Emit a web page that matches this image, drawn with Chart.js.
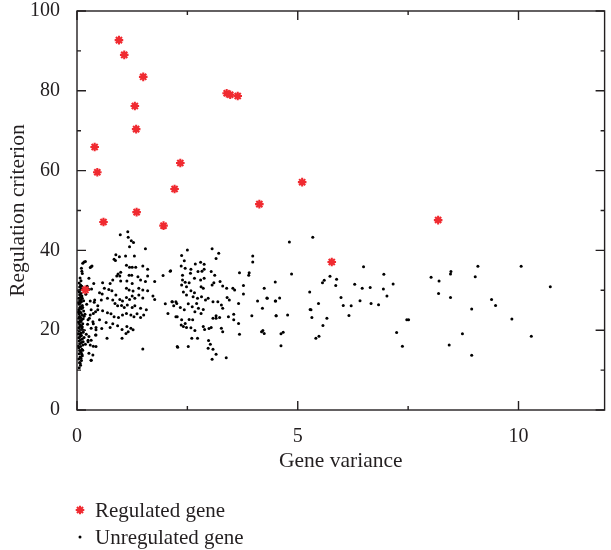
<!DOCTYPE html>
<html>
<head>
<meta charset="utf-8">
<script src="https://cdn.jsdelivr.net/npm/chart.js@4"></script>
<style>
  html, body { margin: 0; padding: 0; background: #fff; overflow: hidden; }
  #wrap { width: 611px; height: 550px; }
</style>
</head>
<body>
<div id="wrap"><canvas id="scatter" width="611" height="550"></canvas></div>
<script>
// gene variance vs regulation criterion
var seriesNames = ["Regulated gene", "Unregulated gene"];
var xTicks = [0, 2.5, 5, 7.5, 10];
var yTicks = [0, 10, 20, 30, 40, 50, 60, 70, 80, 90, 100];

var regulated = [
    [0.95, 92.7], [1.07, 89.0], [1.50, 83.5], [1.31, 76.2], [1.34, 70.4],
    [0.40, 65.9], [0.46, 59.6], [2.34, 61.9], [2.21, 55.4], [0.60, 47.1],
    [1.35, 49.6], [1.96, 46.2], [3.39, 79.4], [3.47, 79.0], [3.64, 78.7],
    [4.13, 51.6], [5.10, 57.1], [5.77, 37.1], [8.18, 47.6], [0.19, 30.1]
];

// dense strip next to the y axis
var unregulatedLow = [
    [0.05, 10.6], [0.08, 11.2], [0.06, 11.9], [0.10, 12.4], [0.04, 12.8], [0.07, 13.3], [0.12, 13.6],
    [0.05, 14.1], [0.09, 14.5], [0.06, 14.9], [0.11, 15.2], [0.04, 15.6], [0.08, 15.9], [0.13, 16.3],
    [0.06, 16.6], [0.10, 16.9], [0.05, 17.3], [0.08, 17.6], [0.12, 17.8], [0.04, 18.1], [0.07, 18.4],
    [0.10, 18.7], [0.06, 19.0], [0.09, 19.3], [0.14, 19.5], [0.05, 19.8], [0.08, 20.1], [0.11, 20.3],
    [0.04, 20.6], [0.07, 20.9], [0.10, 21.1], [0.06, 21.4], [0.13, 21.6], [0.05, 21.9], [0.09, 22.2],
    [0.07, 22.4], [0.11, 22.7], [0.04, 23.0], [0.08, 23.2], [0.06, 23.5], [0.12, 23.8], [0.05, 24.1],
    [0.09, 24.3], [0.07, 24.6], [0.15, 24.8], [0.04, 25.1], [0.10, 25.4], [0.06, 25.6], [0.08, 25.9],
    [0.12, 26.2], [0.05, 26.5], [0.07, 26.8], [0.10, 27.1], [0.06, 27.4], [0.09, 27.7], [0.04, 28.0],
    [0.08, 28.3], [0.11, 28.6], [0.06, 28.9], [0.09, 29.2], [0.05, 29.6], [0.07, 30.0], [0.10, 30.4],
    [0.06, 30.8], [0.08, 31.3], [0.05, 31.8], [0.09, 32.4], [0.07, 33.1], [0.12, 34.2], [0.10, 35.5],
    [0.03, 16.0], [0.14, 17.1], [0.03, 19.1], [0.12, 20.8], [0.03, 22.0], [0.14, 22.9], [0.03, 24.5],
    [0.13, 25.7], [0.03, 26.9], [0.12, 28.0], [0.04, 29.9], [0.11, 31.0], [0.09, 13.0], [0.11, 14.0],
    [0.13, 15.0], [0.07, 11.7], [0.15, 20.0], [0.15, 27.4], [0.16, 23.5], [0.16, 18.2],
    [0.19, 37.2], [0.13, 36.8], [0.11, 34.8], [0.32, 35.9], [0.27, 33.0], [0.32, 12.5], [0.27, 14.2],
    [0.43, 15.9], [0.20, 29.0], [0.22, 26.5], [0.18, 24.0], [0.24, 21.5], [0.21, 19.0], [0.19, 16.5],
    [0.25, 17.5], [0.28, 23.0], [0.23, 31.0], [0.27, 30.2], [0.40, 27.6], [0.47, 25.1], [0.30, 23.8],
    [0.37, 21.6], [0.43, 20.1], [0.27, 18.4], [0.32, 17.5], [0.42, 18.8], [0.51, 22.6]
];

var unregulatedMid = [
    [0.98, 43.9], [1.15, 44.7], [1.16, 43.3], [1.23, 42.4], [1.28, 42.0], [1.19, 40.9], [1.55, 40.4],
    [0.16, 37.1], [0.34, 36.1], [0.30, 35.7], [0.88, 38.9], [0.96, 38.4], [0.84, 37.8], [0.87, 37.5],
    [1.10, 38.6], [1.30, 38.6], [1.12, 36.3], [1.19, 35.8], [1.25, 35.8], [1.33, 35.8], [1.49, 36.1],
    [1.60, 35.3], [2.11, 34.8], [1.95, 33.7], [0.99, 34.5], [0.93, 34.1], [0.90, 33.6], [0.97, 33.6],
    [0.81, 32.6], [0.99, 32.3], [1.18, 33.8], [1.24, 33.8], [1.38, 33.4], [1.44, 32.6], [1.60, 33.6],
    [1.55, 32.2], [1.76, 32.2], [0.38, 31.7], [0.58, 31.9], [0.75, 31.7], [1.13, 32.3], [1.25, 31.7],
    [0.33, 30.3], [0.62, 30.5], [0.72, 30.2], [0.79, 29.9], [1.12, 30.5], [1.18, 30.1], [1.27, 29.8],
    [1.40, 30.5], [1.49, 30.1], [1.60, 29.9], [0.51, 29.4], [0.57, 29.1], [0.69, 28.0], [0.88, 28.8],
    [0.97, 27.7], [1.03, 27.3], [1.12, 28.2], [1.19, 27.7], [1.25, 28.6], [1.31, 28.0], [1.40, 28.8],
    [1.49, 28.1], [1.72, 28.6], [1.76, 27.7], [0.30, 27.3], [0.39, 27.0], [0.55, 27.6], [0.47, 26.1],
    [0.81, 27.6], [0.86, 26.7], [0.92, 26.1], [1.01, 26.2], [1.07, 25.7], [1.14, 26.3], [1.25, 25.7],
    [1.31, 26.1], [1.44, 25.5], [1.57, 25.1], [2.00, 26.6], [2.06, 24.2], [2.15, 27.1], [2.24, 27.1],
    [2.27, 23.4], [0.32, 25.1], [0.37, 24.2], [0.42, 24.6], [0.58, 24.9], [0.69, 24.4], [0.77, 24.1],
    [0.84, 23.4], [0.94, 23.2], [1.03, 23.8], [1.12, 24.2], [1.22, 23.8], [1.29, 23.4], [1.36, 24.1],
    [1.44, 23.2], [1.51, 23.8], [0.25, 22.6], [0.36, 22.1], [0.43, 20.7], [0.32, 20.5], [0.56, 20.4],
    [0.66, 21.9], [0.75, 20.7], [0.81, 21.6], [0.92, 21.1], [1.02, 20.2], [1.13, 20.9], [1.22, 20.5],
    [1.27, 20.1], [0.68, 18.0], [1.02, 18.0], [1.11, 19.2], [1.16, 19.6], [0.25, 17.1], [0.30, 16.3],
    [0.37, 16.0], [0.43, 18.8], [0.36, 13.8], [0.32, 12.5], [1.49, 15.3], [2.27, 15.9],
    [2.50, 40.1], [3.06, 40.4], [3.21, 39.3], [3.15, 38.0], [2.37, 38.7], [2.43, 37.4], [2.36, 36.1],
    [2.45, 35.5], [2.68, 36.6], [2.80, 37.0], [2.88, 36.5], [2.88, 35.3], [2.83, 34.8], [2.74, 34.7],
    [2.58, 35.3], [2.57, 34.3], [2.12, 34.9], [2.39, 33.8], [2.66, 33.0], [2.80, 32.6], [2.88, 33.0],
    [3.04, 34.7], [3.12, 33.8], [2.39, 32.6], [2.45, 32.0], [2.37, 31.3], [2.54, 31.9], [2.48, 30.9],
    [2.81, 30.9], [2.86, 30.5], [3.06, 31.3], [3.10, 31.9], [3.24, 32.2], [3.30, 31.1], [3.39, 30.5],
    [3.53, 30.5], [3.57, 30.1], [3.68, 34.4], [3.89, 33.8], [3.90, 34.4], [3.98, 38.6], [3.98, 37.1],
    [3.77, 31.2], [4.24, 30.5], [4.49, 32.1], [2.41, 29.6], [2.48, 28.8], [2.58, 29.9], [2.66, 29.4],
    [2.63, 28.4], [2.73, 28.0], [2.82, 28.4], [2.91, 27.6], [2.97, 28.0], [3.08, 27.1], [3.19, 27.1],
    [3.27, 26.3], [3.30, 25.5], [3.40, 28.2], [3.45, 27.6], [2.16, 27.1], [2.26, 26.7], [2.19, 26.1],
    [2.34, 25.7], [2.43, 25.1], [2.52, 26.6], [2.61, 25.9], [2.71, 26.7], [2.75, 25.5], [2.67, 24.6],
    [2.81, 24.2], [2.86, 25.2], [3.66, 26.7], [3.77, 29.1], [4.09, 27.3], [4.20, 25.5], [4.30, 28.1],
    [4.49, 27.3], [3.96, 23.6], [4.51, 23.6], [3.15, 23.6], [3.23, 23.2], [3.08, 23.0], [3.15, 23.0],
    [3.43, 23.4], [3.55, 24.0], [3.55, 22.6], [3.66, 21.7], [3.68, 19.0], [3.27, 20.5], [3.30, 19.6],
    [2.37, 22.6], [2.45, 21.7], [2.36, 21.3], [2.54, 22.7], [2.62, 22.6], [2.24, 23.4], [2.41, 20.9],
    [2.48, 20.7], [2.58, 20.6], [2.67, 19.9], [2.86, 20.9], [2.89, 20.2], [2.99, 20.4], [3.04, 20.7],
    [2.60, 18.0], [2.73, 18.0], [2.52, 15.9], [2.28, 15.7], [2.98, 17.4], [3.02, 16.5], [2.97, 15.5],
    [3.08, 15.2], [3.15, 14.0], [3.06, 12.7], [3.38, 13.1], [4.21, 19.9], [4.24, 19.2], [4.18, 19.6]
];

var unregulatedHigh = [
    [4.81, 42.1], [5.34, 43.3], [4.86, 34.1], [5.56, 31.9], [5.60, 32.5], [5.73, 33.5], [5.88, 32.8],
    [5.86, 31.2], [5.27, 29.6], [4.31, 28.0], [4.50, 27.3], [4.59, 28.1], [5.47, 26.7], [5.28, 25.2],
    [5.30, 25.1], [5.32, 23.2], [4.51, 23.6], [4.77, 23.8], [5.66, 23.0], [5.57, 21.2], [4.67, 19.5],
    [4.62, 19.1], [4.62, 16.1], [5.48, 18.5], [5.41, 18.0], [5.98, 28.2], [6.03, 26.2], [6.21, 26.1],
    [6.16, 23.7], [6.29, 31.5], [6.46, 30.5], [6.64, 30.7], [6.49, 35.9], [6.41, 27.4], [6.66, 26.7],
    [6.83, 26.4], [6.95, 34.0], [6.94, 30.3], [7.02, 28.6], [7.16, 31.6], [7.47, 22.6], [7.51, 22.6],
    [7.24, 19.4], [7.37, 16.0], [8.02, 33.3], [8.20, 32.3], [8.19, 29.2], [8.46, 28.2], [8.47, 34.7],
    [8.46, 34.1], [9.08, 36.0], [9.02, 33.4], [8.73, 19.1], [8.43, 16.3], [8.94, 25.3], [8.94, 13.7],
    [9.39, 27.7], [9.48, 26.2], [9.85, 22.8], [10.06, 36.0], [10.29, 18.5], [10.72, 30.9]
];

var unregulated = unregulatedLow.concat(unregulatedMid, unregulatedHigh);

function toPoints(list) {
    return list.map(p => ({ x: p[0], y: p[1] }));
}

var ink = '#231f20';
var red = '#f02a30';
var serif = '"Liberation Serif", "DejaVu Serif", serif';

// box with inward ticks on all four sides
var framePlugin = {
    id: 'frame',
    afterDatasetsDraw(chart) {
        let ctx = chart.ctx;
        let a = chart.chartArea;
        let xs = chart.scales.x;
        let ys = chart.scales.y;
        ctx.save();
        ctx.strokeStyle = ink;
        ctx.lineWidth = 1.4;
        ctx.strokeRect(a.left, a.top, a.right - a.left, a.bottom - a.top);
        ctx.beginPath();
        xs.ticks.forEach(t => {
            let p = xs.getPixelForValue(t.value);
            let len = t.value % 5 === 0 ? 9 : 4;
            ctx.moveTo(p, a.bottom); ctx.lineTo(p, a.bottom - len);
            ctx.moveTo(p, a.top); ctx.lineTo(p, a.top + len);
        });
        ys.ticks.forEach(t => {
            let p = ys.getPixelForValue(t.value);
            let len = t.value % 20 === 0 ? 9 : 4;
            ctx.moveTo(a.left, p); ctx.lineTo(a.left + len, p);
            ctx.moveTo(a.right, p); ctx.lineTo(a.right - len, p);
        });
        ctx.stroke();
        ctx.restore();
    }
};

// legend stacked under the x axis
var legendPlugin = {
    id: 'stackLegend',
    afterDraw(chart) {
        let ctx = chart.ctx;
        let rows = [510, 537];
        ctx.save();
        chart.data.datasets.forEach((ds, i) => {
            ctx.strokeStyle = ds.borderColor;
            ctx.fillStyle = ds.backgroundColor;
            ctx.lineWidth = ds.borderWidth;
            Chart.helpers.drawPoint(ctx, {
                pointStyle: ds.pointStyle,
                radius: ds.pointRadius,
                borderWidth: ds.borderWidth,
                rotation: 0
            }, 80, rows[i]);
            ctx.fillStyle = ink;
            ctx.font = '21px ' + serif;
            ctx.textBaseline = 'middle';
            ctx.fillText(ds.label, 95, rows[i] + 1);
        });
        ctx.restore();
    }
};

var ctx = document.getElementById("scatter");
var chart = new Chart(ctx, {
    type: 'scatter',
    data: {
        datasets: [{
            label: seriesNames[0],
            data: toPoints(regulated),
            pointStyle: 'star',
            pointRadius: 4.3,
            borderWidth: 2.1,
            borderColor: red,
            backgroundColor: red
        }, {
            label: seriesNames[1],
            data: toPoints(unregulated),
            pointStyle: 'circle',
            pointRadius: 1.5,
            borderWidth: 0,
            borderColor: '#000',
            backgroundColor: '#000'
        }]
    },
    options: {
        responsive: false,
        animation: false,
        layout: { padding: { top: 11, right: 0, left: 0, bottom: 0 } },
        plugins: {
            legend: { display: false },
            tooltip: { enabled: false }
        },
        scales: {
            x: {
                type: 'linear',
                min: 0,
                max: 11.95,
                afterBuildTicks: s => { s.ticks = xTicks.map(v => ({ value: v })); },
                afterFit: s => { s.height = 140; s.paddingLeft = 0; s.paddingRight = 0; },
                grid: { display: false },
                border: { display: false },
                ticks: {
                    padding: 7,
                    color: ink,
                    font: { family: serif, size: 20 },
                    callback: v => (v % 5 === 0 ? String(v) : '')
                },
                title: {
                    display: true,
                    text: 'Gene variance',
                    color: ink,
                    font: { family: serif, size: 21.5 },
                    padding: { top: 0, bottom: 76 }
                }
            },
            y: {
                type: 'linear',
                min: 0,
                max: 100,
                afterBuildTicks: s => { s.ticks = yTicks.map(v => ({ value: v })); },
                afterFit: s => { s.width = 77; s.paddingTop = 0; s.paddingBottom = 0; },
                grid: { display: false },
                border: { display: false },
                ticks: {
                    padding: 9,
                    color: ink,
                    font: { family: serif, size: 20 },
                    callback: v => (v % 20 === 0 ? String(v) : '')
                },
                title: {
                    display: true,
                    text: 'Regulation criterion',
                    color: ink,
                    font: { family: serif, size: 21.5 },
                    padding: { top: 5, bottom: 0 }
                }
            }
        }
    },
    plugins: [framePlugin, legendPlugin]
});
</script>
</body>
</html>
